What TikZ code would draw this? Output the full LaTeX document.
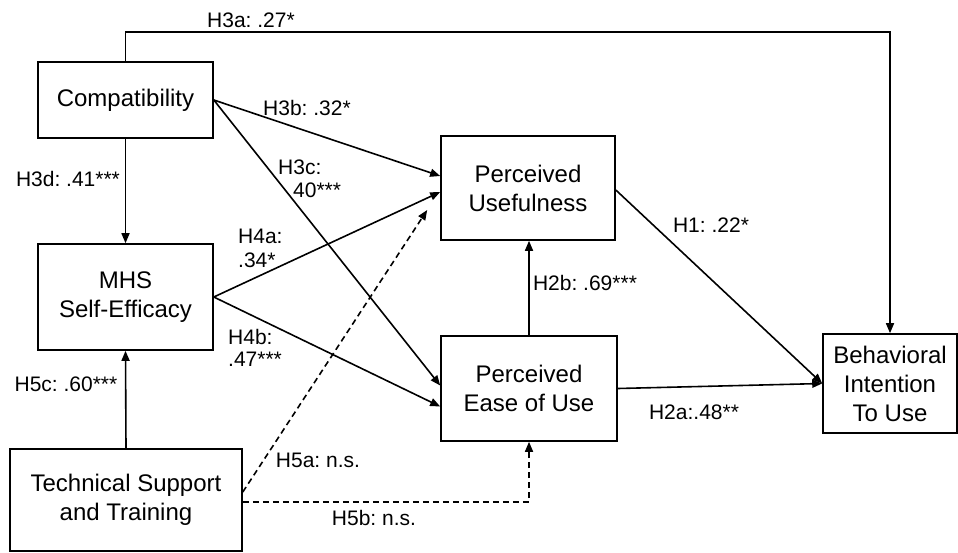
\documentclass[tikz,border=0pt]{standalone}
\usepackage{fontspec}
\setmainfont{Liberation Sans}
\usetikzlibrary{arrows.meta}
\begin{document}
\frenchspacing
\begin{tikzpicture}[x=1pt,y=-1pt,
  box/.style={draw, line width=1.6pt, align=center, inner sep=0pt,
    font=\fontsize{24}{29}\selectfont},
  lbl/.style={inner sep=0pt, font=\fontsize{21}{25}\selectfont},
  conn/.style={line width=1.6pt, -{Triangle[length=10pt,width=8pt]}},
  dconn/.style={conn, dash pattern=on 6pt off 4pt}]
\useasboundingbox (0,0) rectangle (958,552);
\node[box, minimum width=175pt, minimum height=76pt] (comp) at (125.5,100) {Compatibility};
\node[box, minimum width=175pt, minimum height=106pt] (mhs) at (125.5,297) {MHS\\Self-Efficacy};
\node[box, minimum width=232pt, minimum height=102pt] (tech) at (126,500) {Technical Support\\and Training};
\node[box, minimum width=174pt, minimum height=104pt] (pu) at (528,188) {Perceived\\Usefulness};
\node[box, minimum width=176pt, minimum height=105pt] (peou) at (529,388.5) {Perceived\\Ease of Use};
\node[box, minimum width=134pt, minimum height=99pt] (bi) at (890,383.5) {Behavioral\\Intention\\To Use};
\coordinate (top) at (890,32);
% connectors
\draw[conn] (comp.north) |- (top) -- (bi.north);
\draw[conn] (comp.east) -- ([yshift=12pt]pu.west);
\draw[conn] (comp.east) -- ([yshift=3pt]peou.west);
\draw[conn] (comp.south) -- (mhs.north);
\draw[conn] (mhs.east) -- ([yshift=-4pt]pu.west);
\draw[conn] (mhs.east) -- ([yshift=-18pt]peou.west);
\draw[conn] (tech.north) -- (mhs.south);
\draw[dconn] ([yshift=8pt]tech.east) -- ([xshift=-13pt,yshift=-22pt]pu.west);
\draw[dconn] ([yshift=-2pt]tech.east) -| (peou.south);
\draw[conn] (peou.north) -- (peou.north |- pu.south);
\draw[conn] ([yshift=-2pt]pu.east) -- (bi.west);
\draw[conn] (peou.east) -- (bi.west);
% labels
\node[lbl] (l3a) at (251,20) {H3a: .27*};
\node[lbl] (l3b) at (307,108) {H3b: .32*};
\node[lbl, anchor=west] (l3c1) at (278,167) {H3c:};
\node[lbl, anchor=west] (l3c2) at (293,190) {40***};
\node[lbl] (l3d) at (68,179) {H3d: .41***};
\node[lbl, anchor=west] (l4a1) at (238,236) {H4a:};
\node[lbl, anchor=west] (l4a2) at (238,260) {.34*};
\node[lbl, anchor=west] (l4b1) at (228,337) {H4b:};
\node[lbl, anchor=west] (l4b2) at (228,359) {.47***};
\node[lbl] (l5c) at (66,384) {H5c: .60***};
\node[lbl] (l5a) at (318,460) {H5a: n.s.};
\node[lbl] (l5b) at (374,518) {H5b: n.s.};
\node[lbl] (l1) at (711,225) {H1: .22*};
\node[lbl] (l2b) at (585,283) {H2b: .69***};
\node[lbl] (l2a) at (694,412) {H2a:.48**};
\end{tikzpicture}
\end{document}
